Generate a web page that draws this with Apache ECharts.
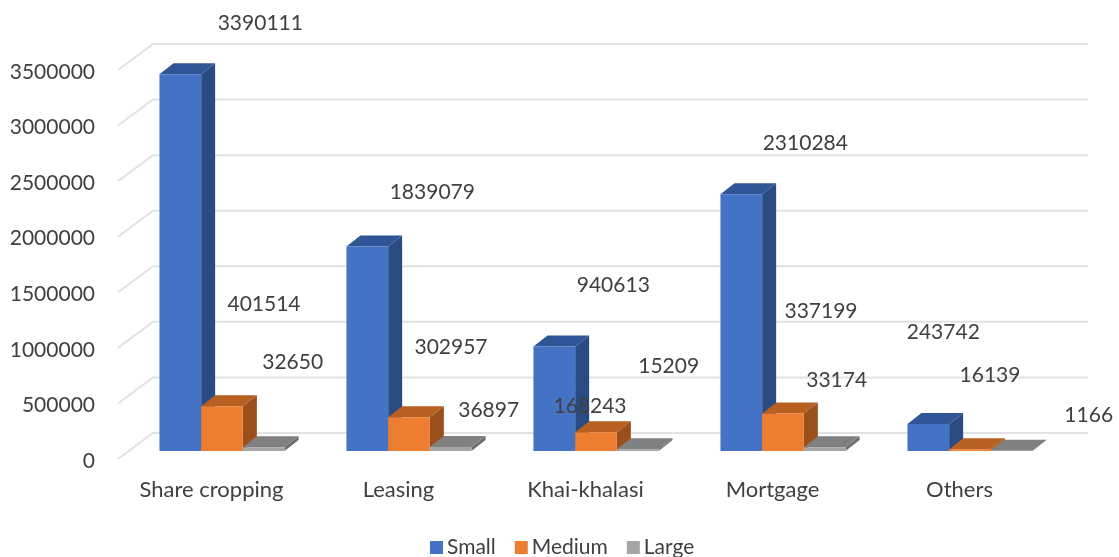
<!DOCTYPE html>
<html>
<head>
<meta charset="utf-8">
<style>
html,body{margin:0;padding:0;background:#fff;}
#chart{width:1119px;height:557px;}
</style>
<script src="https://cdn.jsdelivr.net/npm/echarts@6/dist/echarts.min.js"></script>
</head>
<body>
<div id="chart"></div>
<script>
var categories = ['Share cropping', 'Leasing', 'Khai-khalasi', 'Mortgage', 'Others'];
var small = [3390111, 1839079, 940613, 2310284, 243742];
var medium = [401514, 302957, 168243, 337199, 16139];
var large = [32650, 36897, 15209, 33174, 1166];
var yTicks = [0, 500000, 1000000, 1500000, 2000000, 2500000, 3000000, 3500000];

// where the labels sit from the top of their bar, they are scattered in the original
var smallLabelShift = [[80, -51], [65, -54], [59, -61], [64, -51], [15, -92]];
var mediumLabelShift = [[42, -102], [42, -70], [-6, -26], [38, -102], [20, -74]];
var largeLabelShift = [[29, -85], [38, -37], [31, -83], [12, -67], [77, -36]];

var wallX = 35, wallY = -26;      // front plane to back wall
var planeX = 10.5, planeY = -8;   // front plane to front of the bars
var depthX = 14, depthY = -11;    // depth of one bar
var barWidth = 41.7;
var textColor = '#404040';
var fontName = 'Lato';

function gridSeries() {
	return {
		type: 'custom',
		silent: true,
		z: 1,
		data: yTicks.map(function (t) { return [0, t]; }),
		renderItem: function (params, api) {
			var y = api.coord([0, api.value(1)])[1];
			var left = params.coordSys.x;
			var right = left + params.coordSys.width;
			return {
				type: 'polyline',
				shape: { points: [[left, y], [left + wallX, y + wallY], [right + wallX, y + wallY]] },
				style: { stroke: '#e2e2e2', lineWidth: 2, fill: null }
			};
		}
	};
}

function barSeries(name, values, slot, colors) {
	return {
		name: name,
		type: 'custom',
		silent: true,
		z: 2,
		itemStyle: { color: colors[0] },
		encode: { x: 0, y: 1 },
		data: values.map(function (v, i) { return [i, v]; }),
		renderItem: function (params, api) {
			var i = api.value(0);
			var top = api.coord([i, api.value(1)]);
			var bottom = api.coord([i, 0]);
			var x0 = top[0] + planeX + (slot - 0.5) * barWidth;
			var x1 = x0 + barWidth;
			var yT = top[1] + planeY;
			var yB = bottom[1] + planeY;
			return {
				type: 'group',
				children: [
					{
						type: 'polygon',
						shape: { points: [[x1, yT], [x1 + depthX, yT + depthY], [x1 + depthX, yB + depthY], [x1, yB]] },
						style: { fill: colors[2] }
					},
					{
						type: 'polygon',
						shape: { points: [[x0, yT], [x0 + depthX, yT + depthY], [x1 + depthX, yT + depthY], [x1, yT]] },
						style: { fill: colors[1] }
					},
					{
						type: 'rect',
						shape: { x: x0, y: yT, width: barWidth, height: yB - yT },
						style: { fill: colors[0] }
					}
				]
			};
		}
	};
}

// labels go in their own series so they stay above every bar
function labelSeries(values, slot, labelShift) {
	return {
		type: 'custom',
		silent: true,
		z: 5,
		data: values.map(function (v, i) { return [i, v]; }),
		renderItem: function (params, api) {
			var i = api.value(0);
			var top = api.coord([i, api.value(1)]);
			var shift = labelShift[i];
			return {
				type: 'text',
				style: {
					x: top[0] + planeX + slot * barWidth + shift[0],
					y: top[1] + planeY + shift[1],
					text: String(api.value(1)),
					fill: textColor,
					font: '21px ' + fontName,
					align: 'center',
					verticalAlign: 'middle'
				}
			};
		}
	};
}

var myChart = echarts.init(document.getElementById('chart'));
option = {
	animation: false,
	backgroundColor: '#ffffff',
	grid: { left: 118, right: 66, top: 70, bottom: 98, outerBoundsMode: 'none' },
	legend: {
		data: ['Small', 'Medium', 'Large'],
		left: 430,
		top: 537,
		padding: 0,
		itemWidth: 13,
		itemHeight: 13,
		itemGap: 19,
		icon: 'rect',
		selectedMode: false,
		textStyle: { color: textColor, fontFamily: fontName, fontSize: 21, padding: [0, 0, 0, -1] }
	},
	xAxis: {
		type: 'category',
		data: categories,
		axisLine: { show: false },
		axisTick: { show: false },
		axisLabel: { color: textColor, fontFamily: fontName, fontSize: 22, margin: 20, interval: 0 }
	},
	yAxis: {
		type: 'value',
		min: 0,
		max: 3500000,
		interval: 500000,
		axisLine: { show: false },
		axisTick: { show: false },
		splitLine: { show: false },
		axisLabel: {
			color: textColor,
			fontFamily: fontName,
			fontSize: 21,
			margin: 23,
			verticalAlign: 'top',
			lineHeight: 4,
			formatter: function (v) { return String(v); }
		}
	},
	series: [
		gridSeries(),
		barSeries('Small', small, -1, ['#4472c4', '#2f5597', '#2a4a82']),
		barSeries('Medium', medium, 0, ['#ed7d31', '#b85f22', '#9a4f1c']),
		barSeries('Large', large, 1, ['#a5a5a5', '#808080', '#6e6e6e']),
		labelSeries(small, -1, smallLabelShift),
		labelSeries(medium, 0, mediumLabelShift),
		labelSeries(large, 1, largeLabelShift)
	]
};
myChart.setOption(option, true);
</script>
</body>
</html>
